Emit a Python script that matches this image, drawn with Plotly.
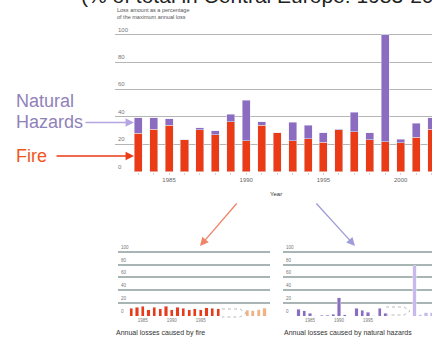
import plotly.graph_objects as go

W, H = 432, 337

# main chart data (loss as % of maximum annual loss)
years = list(range(1983, 2003))
fire = [28, 31, 34, 23.5, 30.5, 27, 36.5, 22.5, 34, 28.5, 22.5, 24, 21.5, 30.5, 29, 23.5, 22, 21, 25, 31]
natural = [11.3, 8.3, 4.5, 0, 1.5, 3, 5.5, 29.5, 2.6, 0, 13.5, 10, 7, 0.5, 14.4, 5, 78, 2.7, 10.4, 8.5]
y_ticks = [0, 20, 40, 60, 80, 100]

# small panels
small_years = [str(y) for y in range(1983, 1999)]
gap_slots = ['gap1', 'gap2', 'gap3', 'gap4']
later_years = ['1999', '2000', '2001', '2002']
fire_small = [12, 14, 15, 10, 14, 11, 15, 10, 14, 12, 10, 11, 10, 13, 12, 11]
fire_later = [9, 8, 10, 12]
nat_small = [10.5, 8.5, 4, 0.5, 1.5, 1.5, 3, 28, 2, 0, 12, 9, 6, 0.5, 12, 4]
nat_later = [78, 2, 5, 5]
small_ticks = ['1985', '1990', '1995']

RED = '#ea3a16'
PURPLE = '#8c6cc1'
FONT = 'Liberation Sans'


def px(x):
    return x / W


def py(y):
    return 1 - y / H


fig = go.Figure()
fig.add_trace(go.Bar(x=years, y=fire, marker_color=RED, width=0.52, name='Fire'))
fig.add_trace(go.Bar(x=years, y=natural, marker_color=PURPLE, width=0.52, name='Natural hazards'))

fig.add_trace(go.Bar(x=small_years, y=fire_small, marker_color=RED, width=0.55, xaxis='x2', yaxis='y2'))
fig.add_trace(go.Bar(x=later_years, y=fire_later, marker_color='#f7b07a', width=0.55, xaxis='x2', yaxis='y2'))
fig.add_trace(go.Bar(x=small_years, y=nat_small, marker_color=PURPLE, width=0.55, xaxis='x3', yaxis='y3'))
fig.add_trace(go.Bar(x=later_years, y=nat_later, marker_color='#c9b8ec', width=0.55, xaxis='x3', yaxis='y3'))

cats = small_years + gap_slots + later_years
small_x = dict(type='category', categoryorder='array', categoryarray=cats, tickvals=small_ticks,
               ticks='', showgrid=False, tickfont=dict(size=4.5, color='#777'), ticklabelstandoff=0)
small_y = dict(range=[0, 102], tickvals=y_ticks, showticklabels=False, zeroline=False,
               gridcolor='#a9b4b4', gridwidth=1.5)

fig.update_layout(
    width=W, height=H, margin=dict(l=0, r=0, t=0, b=0),
    paper_bgcolor='white', plot_bgcolor='white', showlegend=False,
    barmode='stack', font=dict(family=FONT),
    xaxis=dict(domain=[px(115), 1], range=[1981.5, 2002.03], tickvals=years,
               ticktext=[str(y) if y % 5 == 0 else '' for y in years],
               ticks='outside', ticklen=2, tickcolor='#cdd3da', showgrid=False, zeroline=False,
               tickfont=dict(size=6, color='#666'), ticklabelstandoff=0),
    yaxis=dict(domain=[py(171.7), py(33.3)], range=[0, 101], gridcolor='#b5b5b5', gridwidth=1,
               tickvals=y_ticks, showticklabels=False, zeroline=False),
    xaxis2=dict(domain=[px(118), px(270)], anchor='y2', range=[-2.26, 23.95], **small_x),
    yaxis2=dict(domain=[py(316), py(250.4)], anchor='x2', **small_y),
    xaxis3=dict(domain=[px(283), 1], anchor='y3', range=[-2.66, 23.03], **small_x),
    yaxis3=dict(domain=[py(316), py(250.4)], anchor='x3', **small_y),
)

# y tick labels sit just above each gridline, at its left end
for v in y_ticks:
    fig.add_annotation(text=str(v), x=px(116), y=v, xref='paper', yref='y', xanchor='left',
                       yanchor='bottom', showarrow=False, font=dict(size=6, color='#777'))
    for ref, xl in [('y2', 119), ('y3', 284)]:
        fig.add_annotation(text=str(v), x=px(xl), y=v, xref='paper', yref=ref, xanchor='left',
                           yanchor='bottom', showarrow=False, font=dict(size=4.5, color='#777'))

ann = [
    dict(text='(% of total in Central Europe: 1983-2002)', x=px(79), y=py(9), xanchor='left',
         yanchor='bottom', font=dict(size=21, color='#222')),
    dict(text='Loss amount as a percentage<br>of the maximum annual loss', x=px(115), y=py(5),
         xanchor='left', yanchor='top', align='left', font=dict(size=5.5, color='#555')),
    dict(text='Year', x=px(276), y=py(194), font=dict(size=6, color='#333')),
    dict(text='Natural', x=px(14), y=py(100.6), xanchor='left', font=dict(size=18, color='#8f82b9')),
    dict(text='Hazards', x=px(14), y=py(121.6), xanchor='left', font=dict(size=18, color='#8f82b9')),
    dict(text='Fire', x=px(14), y=py(156.3), xanchor='left', font=dict(size=18, color='#f0561e')),
    dict(text='Annual losses caused by fire', x=px(114), y=py(333), xanchor='left',
         font=dict(size=7, color='#333')),
    dict(text='Annual losses caused by natural hazards', x=px(282), y=py(333), xanchor='left',
         font=dict(size=7, color='#333')),
]
for a in ann:
    a.setdefault('xanchor', 'center')
    a.setdefault('yanchor', 'middle')
    a.update(xref='paper', yref='paper', showarrow=False)
    fig.add_annotation(**a)

arrows = [
    ((134, 122.5), (-50, 0), '#b7a4e3'),
    ((134, 156), (-79, 0), '#ea3a16'),
    ((200, 246), (38, -44), '#f08466'),
    ((355, 246), (-40, -44), '#9f9cd8'),
]
for (hx, hy), (ax, ay), col in arrows:
    fig.add_annotation(x=px(hx), y=py(hy), xref='paper', yref='paper', text='', showarrow=True,
                       ax=ax, ay=ay, arrowcolor=col, arrowwidth=1.3, arrowhead=2, arrowsize=1.3)

# dashed outline arrows marking the break in the small panels
for x0, yc in [(222, 313), (386, 311)]:
    pts = [(x0, yc - 4), (x0 + 18, yc - 4), (x0 + 24, yc), (x0 + 18, yc + 4), (x0, yc + 4)]
    path = 'M ' + ' L '.join(f'{px(a):.4f},{py(b):.4f}' for a, b in pts)
    fig.add_shape(type='path', path=path, xref='paper', yref='paper',
                  line=dict(color='#bbbbbb', width=1, dash='dot'))

# the page's default body margin would push the figure 8px right and down
fig.write_html('out.html', config={'displayModeBar': False},
               post_script="document.body.style.margin = '0';")
